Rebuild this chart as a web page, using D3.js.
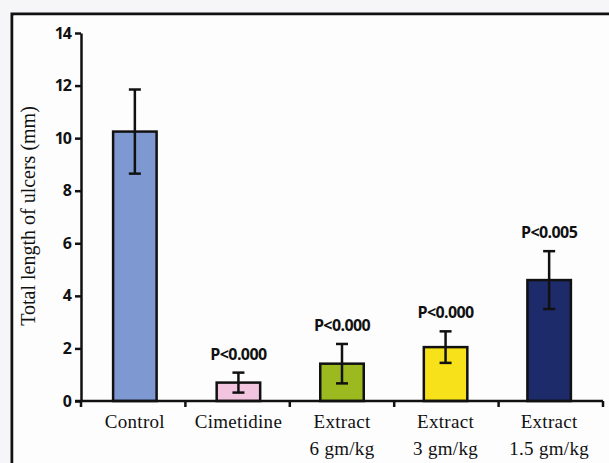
<!DOCTYPE html>
<html><head><meta charset="utf-8">
<script src="https://cdn.jsdelivr.net/npm/d3@7"></script>
<style>body{margin:0;background:#f6f6f8;}svg{display:block;}</style>
</head><body>
<svg id="c" width="609" height="463"></svg>
<script>
const categories = [["Control"], ["Cimetidine"], ["Extract", "6 gm/kg"], ["Extract", "3 gm/kg"], ["Extract", "1.5 gm/kg"]];
const values = [10.25, 0.7, 1.42, 2.05, 4.6];
const errors = [1.6, 0.38, 0.75, 0.6, 1.1];
const pLabels = ["", "P<0.000", "P<0.000", "P<0.000", "P<0.005"];
const colors = ["#7e98d2", "#f2c4de", "#9cba1f", "#f6e11a", "#1e2b6a"];
const yTicks = [0, 2, 4, 6, 8, 10, 12, 14];

const svg = d3.select("#c");
// frame
svg.append("path").attr("d", "M12,463 V14 H609").attr("fill", "none").attr("stroke", "#111").attr("stroke-width", 3);
svg.append("rect").attr("x", 13.5).attr("y", 15.5).attr("width", 596).attr("height", 448).attr("fill", "#fdfdfe");

const x0 = 81, x1 = 603, yTop = 33, yBot = 401;
const x = d3.scaleBand().domain(d3.range(values.length)).range([x0, x1]).paddingInner(0.58).paddingOuter(0.31);
const y = d3.scaleLinear().domain([0, 14]).range([yBot, yTop]);

const g = svg.append("g");
// bars
g.selectAll("rect.bar").data(values).join("rect").attr("class", "bar")
  .attr("x", (d, i) => x(i)).attr("width", x.bandwidth())
  .attr("y", d => y(d)).attr("height", d => y(0) - y(d))
  .attr("fill", (d, i) => colors[i]).attr("stroke", "#111").attr("stroke-width", 2.5);

// error bars
values.forEach((v, i) => {
  const cx = x(i) + x.bandwidth() / 2;
  const e = g.append("g").attr("stroke", "#111").attr("stroke-width", 2.5);
  e.append("line").attr("x1", cx).attr("x2", cx).attr("y1", y(v + errors[i])).attr("y2", y(v - errors[i]));
  e.append("line").attr("x1", cx - 6).attr("x2", cx + 6).attr("y1", y(v + errors[i])).attr("y2", y(v + errors[i]));
  e.append("line").attr("x1", cx - 6).attr("x2", cx + 6).attr("y1", y(v - errors[i])).attr("y2", y(v - errors[i]));
  if (pLabels[i]) {
    g.append("text").attr("x", cx).attr("y", y(v + errors[i]) - 13)
      .attr("text-anchor", "middle").attr("font-family", "'Open Sans', 'DejaVu Sans', sans-serif")
      .attr("font-weight", "bold").attr("font-size", 16).attr("fill", "#111").attr("letter-spacing", -0.6)
      .text(pLabels[i]);
  }
});

// y axis
const yAxis = d3.axisLeft(y).tickValues(yTicks).tickSize(6).tickSizeOuter(0);
const ya = svg.append("g").attr("transform", `translate(${x0},0)`).call(yAxis);
ya.select(".domain").attr("stroke", "#111").attr("stroke-width", 2.5);
ya.selectAll(".tick line").attr("stroke", "#111").attr("stroke-width", 2.5);
ya.selectAll(".tick text").attr("font-family", "'Open Sans', 'DejaVu Sans', sans-serif").attr("font-weight", "bold")
  .attr("font-size", 16).attr("fill", "#111").attr("x", -10).attr("letter-spacing", -1);

// x axis
const bounds = d3.range(values.length + 1).map(i => x0 + (x1 - x0) * i / values.length);
const xa = svg.append("g");
xa.append("line").attr("x1", x0 - 6).attr("x2", x1).attr("y1", yBot).attr("y2", yBot).attr("stroke", "#111").attr("stroke-width", 2.5);
xa.selectAll("line.t").data(bounds).join("line").attr("class", "t")
  .attr("x1", d => d).attr("x2", d => d).attr("y1", yBot).attr("y2", yBot + 6).attr("stroke", "#111").attr("stroke-width", 2.5);

categories.forEach((lines, i) => {
  const cx = x(i) + x.bandwidth() / 2;
  const t = svg.append("text").attr("text-anchor", "middle").attr("font-family", "'Liberation Serif', 'Times New Roman', serif")
    .attr("font-size", 19).attr("fill", "#111").attr("letter-spacing", 0.3);
  lines.forEach((l, k) => t.append("tspan").attr("x", cx).attr("y", 428 + k * 27).text(l));
});

// y label
svg.append("text").attr("transform", `translate(35,${(yTop + yBot) / 2 - 1}) rotate(-90)`)
  .attr("text-anchor", "middle").attr("font-family", "'Liberation Serif', 'Times New Roman', serif")
  .attr("font-size", 20).attr("fill", "#111").text("Total length of ulcers (mm)");
</script>
</body></html>
